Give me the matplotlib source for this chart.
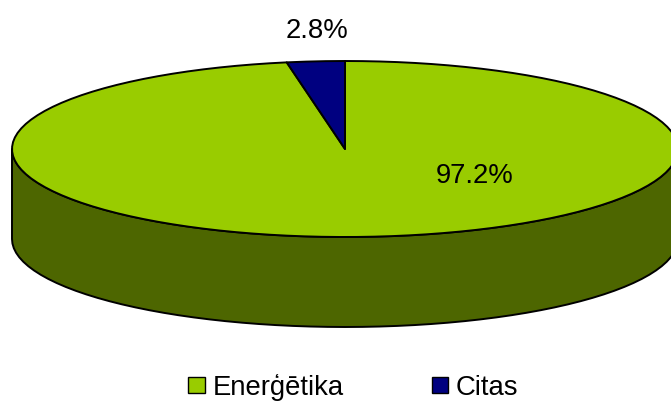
import matplotlib

matplotlib.use("Agg")

import matplotlib.pyplot as plt
import numpy as np
from matplotlib.patches import Patch, Polygon

labels = ["Enerģētika", "Citas"]
values = [97.2, 2.8]
pct_labels = ["97.2%", "2.8%"]
colors = ["#99cc00", "#000080"]
side_color = "#4d6600"

plt.rcParams["font.family"] = ["Liberation Sans", "DejaVu Sans"]

# pie geometry in image pixels
cx, cy, rx, ry, depth = 345.0, 149.0, 333.0, 88.0, 90.0
edge = dict(edgecolor="black", linewidth=1.4, joinstyle="round")


def rim(a0, a1, dy=0.0):
    # angles are clockwise from 12 o'clock, in degrees
    n = max(2, int(abs(a1 - a0) / 3) + 1)
    t = np.radians(np.linspace(a0, a1, n))
    return np.column_stack([cx + rx * np.sin(t), cy - ry * np.cos(t) + dy])


fig = plt.figure(figsize=(6.71, 4.01), dpi=100)
ax = fig.add_axes([0, 0, 1, 1])
ax.set_xlim(0, 671)
ax.set_ylim(401, 0)
ax.axis("off")

# side wall, only the front half shows
front = rim(90, 270)
ax.add_patch(Polygon(np.vstack([front, rim(270, 90, dy=depth)]),
                     facecolor=side_color, **edge))

# top face, first slice starts at 12 o'clock and runs clockwise
start = 0.0
for v, c in zip(values, colors):
    sweep = v / sum(values) * 360
    pts = np.vstack([[cx, cy], rim(start, start + sweep)])
    ax.add_patch(Polygon(pts, facecolor=c, **edge))
    start += sweep

ax.text(475, 176, pct_labels[0], fontsize=19.8, ha="center", va="center")
ax.text(317, 31, pct_labels[1], fontsize=19.8, ha="center", va="center")

handles = [Patch(facecolor=c, edgecolor="black", linewidth=1.0) for c in colors]
ax.legend(handles, labels, ncol=2, frameon=False, fontsize=19.8,
          loc="lower left", bbox_to_anchor=(188 / 671, 0.0),
          borderaxespad=0, borderpad=0, handlelength=0.6, handleheight=0.5,
          handletextpad=0.29, columnspacing=3.2)

fig.savefig("out.png", dpi=100)
plt.close(fig)
